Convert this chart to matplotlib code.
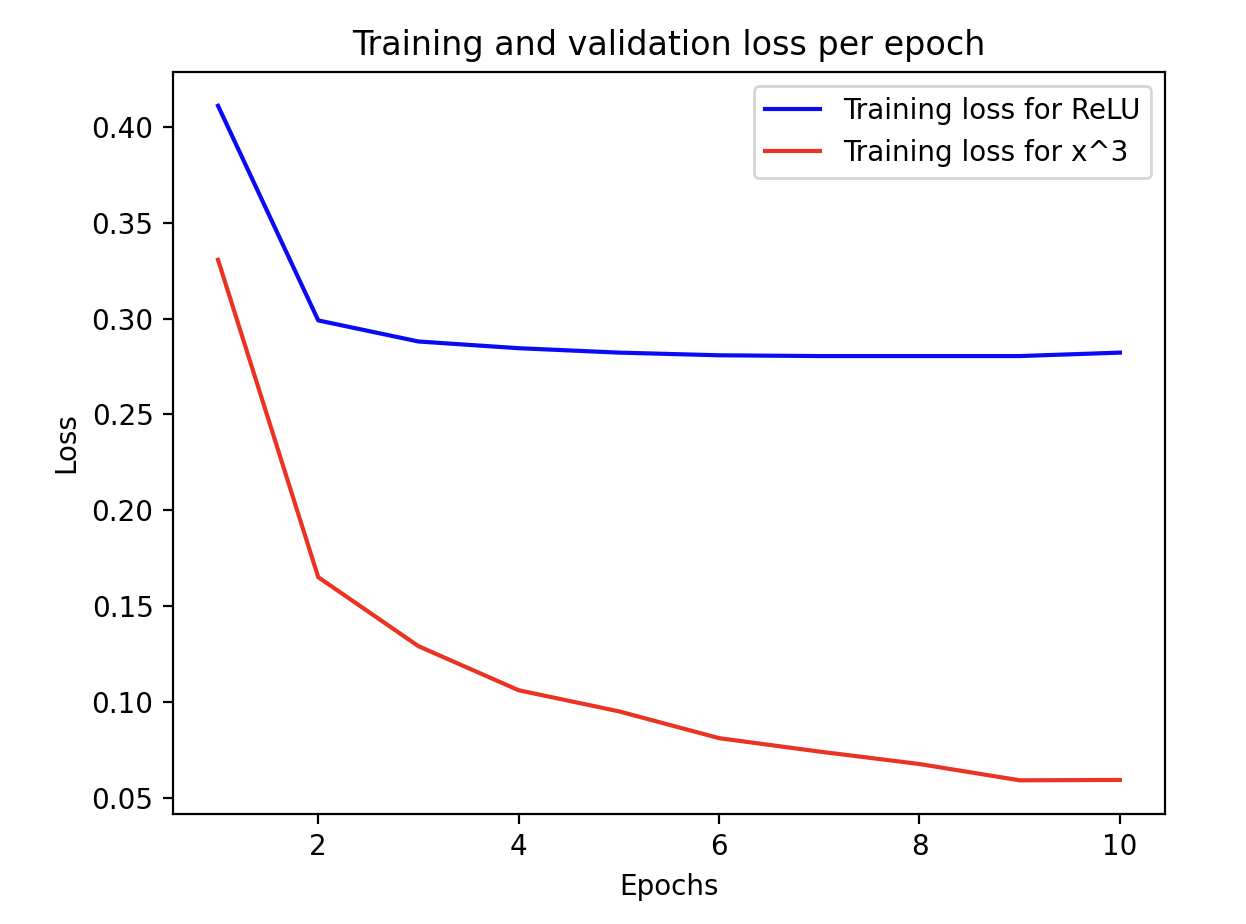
import matplotlib
matplotlib.use("Agg")
import matplotlib.pyplot as plt

epochs = [1, 2, 3, 4, 5, 6, 7, 8, 9, 10]
relu_loss = [0.411, 0.299, 0.288, 0.2845, 0.2822, 0.2808, 0.2804, 0.2804, 0.2804, 0.2822]
cube_loss = [0.3306, 0.165, 0.1290, 0.1060, 0.0950, 0.0810, 0.0740, 0.0675, 0.0590, 0.0592]

fig = plt.figure(figsize=(6.23, 4.62), dpi=200)
ax = fig.add_axes([0.1388, 0.119, 0.7962, 0.803])
ax.plot(epochs, relu_loss, color="#0a0af5", label="Training loss for ReLU")
ax.plot(epochs, cube_loss, color="#ea3323", label="Training loss for x^3")
ax.set_title("Training and validation loss per epoch")
ax.set_xlabel("Epochs")
ax.set_ylabel("Loss")
ax.set_xticks([2, 4, 6, 8, 10])
ax.legend(loc="upper right")
fig.savefig("out.png", dpi=200)
